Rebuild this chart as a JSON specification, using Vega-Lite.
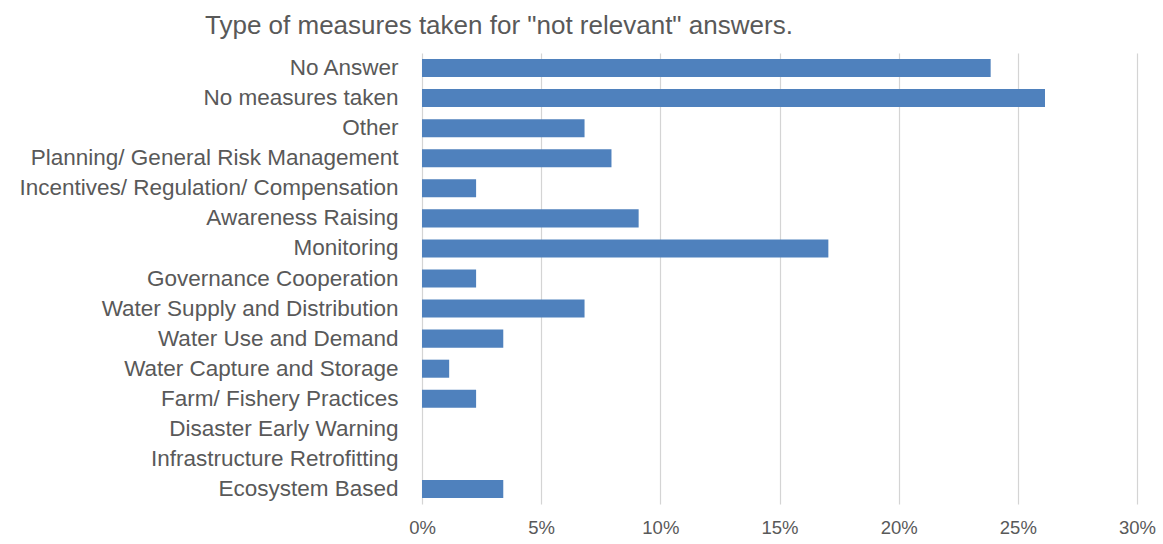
{
  "$schema": "https://vega.github.io/schema/vega-lite/v6.json",
  "autosize": "none",
  "width": 715,
  "height": 451,
  "padding": {"left": 422, "top": 53, "right": 26, "bottom": 40},
  "background": "white",
  "title": {
    "text": "Type of measures taken for \"not relevant\" answers.",
    "font": "Liberation Sans",
    "fontSize": 26,
    "fontWeight": "normal",
    "color": "#595959",
    "anchor": "start",
    "frame": "group",
    "dx": -217,
    "baseline": "alphabetic",
    "offset": -7
  },
  "data": {
    "values": [
      {"measure": "No Answer", "share": 0.2386},
      {"measure": "No measures taken", "share": 0.2614},
      {"measure": "Other", "share": 0.0682},
      {"measure": "Planning/ General Risk Management ", "share": 0.0795},
      {"measure": "Incentives/ Regulation/ Compensation", "share": 0.0227},
      {"measure": "Awareness Raising", "share": 0.0909},
      {"measure": "Monitoring", "share": 0.1705},
      {"measure": "Governance Cooperation", "share": 0.0227},
      {"measure": "Water Supply and Distribution", "share": 0.0682},
      {"measure": "Water Use and Demand", "share": 0.0341},
      {"measure": "Water Capture and Storage", "share": 0.0114},
      {"measure": "Farm/ Fishery Practices", "share": 0.0227},
      {"measure": "Disaster Early Warning", "share": 0},
      {"measure": "Infrastructure Retrofitting", "share": 0},
      {"measure": "Ecosystem Based", "share": 0.0341}
    ]
  },
  "mark": {"type": "bar", "color": "#4F81BD"},
  "encoding": {
    "y": {
      "field": "measure",
      "type": "nominal",
      "sort": null,
      "scale": {"paddingInner": 0.4, "paddingOuter": 0.2},
      "axis": {
        "title": null,
        "domain": false,
        "ticks": false,
        "labelPadding": 24,
        "labelFont": "Liberation Sans",
        "labelFontSize": 22.5,
        "labelColor": "#595959",
        "labelLimit": 500
      }
    },
    "x": {
      "field": "share",
      "type": "quantitative",
      "scale": {"domain": [0, 0.3], "nice": false},
      "axis": {
        "title": null,
        "format": ".0%",
        "values": [0, 0.05, 0.1, 0.15, 0.2, 0.25, 0.3],
        "domain": false,
        "ticks": false,
        "grid": true,
        "gridColor": "#d4d4d4",
        "gridWidth": 1.2,
        "labelFlush": false,
        "labelPadding": 14,
        "labelFont": "Liberation Sans",
        "labelFontSize": 18.5,
        "labelColor": "#595959"
      }
    }
  },
  "config": {"view": {"stroke": null}}
}
